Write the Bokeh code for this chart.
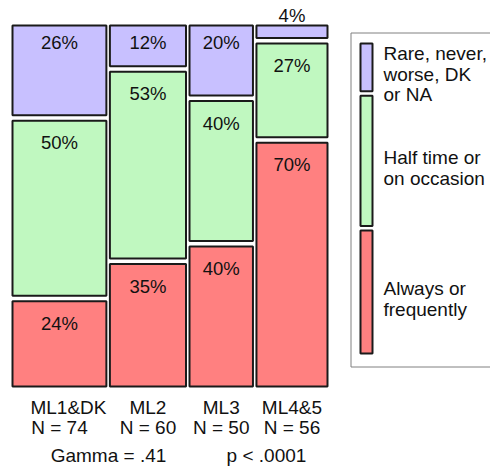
from bokeh.plotting import figure
from bokeh.layouts import row
from bokeh.models import Range1d, ColumnDataSource
from bokeh.embed import file_html
from bokeh.resources import INLINE
from bokeh.core.properties import value

# ---------------- data ----------------
groups = ["ML1&DK", "ML2", "ML3", "ML4&5"]
n_totals = [74, 60, 50, 56]
# counts per response level (bottom -> top)
always_freq = [18, 21, 20, 39]
half_time = [37, 32, 20, 15]
rare_never = [19, 7, 10, 2]
levels = ["Always or\nfrequently", "Half time or\non occasion", "Rare, never,\nworse, DK\nor NA"]
level_colors = ["#ff8080", "#c0f8c0", "#c8c0ff"]
gamma_text = "Gamma = .41"
p_text = "p < .0001"

FONT = "Liberation Sans"
LINE = "#1a1a1a"

# ---------------- mosaic figure ----------------
W1, H = 345, 466
left_px, right_px = 12, 327
gx_px = 3.5
sx = (right_px - left_px - 3 * gx_px) / sum(n_totals)
x_gap = gx_px / sx
bottom_px, top_px = 386, 25
gy_px = 5.5
ty = (bottom_px - top_px - 2 * gy_px) / 100.0
y_gap = gy_px / ty

p = figure(width=W1, height=H, output_backend="svg", toolbar_location=None,
           x_range=Range1d(-left_px / sx, (W1 - left_px) / sx),
           y_range=Range1d(-(H - bottom_px) / ty, bottom_px / ty),
           min_border=0, outline_line_color=None)
p.axis.visible = False
p.grid.visible = False
p.background_fill_color = "white"

layers = [always_freq, half_time, rare_never]
q = dict(left=[], right=[], bottom=[], top=[], color=[])
lab = dict(x=[], y=[], text=[], yoff=[])
x0 = 0.0
centers = []
for i, n in enumerate(n_totals):
    x1 = x0 + n
    centers.append((x0 + x1) / 2)
    y0 = 0.0
    for k, layer in enumerate(layers):
        h = 100.0 * layer[i] / n
        q["left"].append(x0); q["right"].append(x1)
        q["bottom"].append(y0); q["top"].append(y0 + h)
        q["color"].append(level_colors[k])
        lab["x"].append((x0 + x1) / 2)
        lab["y"].append(y0 + h)
        lab["text"].append(f"{round(100.0 * layer[i] / n)}%")
        if h * ty < 20:
            lab["yoff"].append(-10)
        elif k == len(layers) - 1:
            lab["yoff"].append(17)
        else:
            lab["yoff"].append(22)
        y0 += h + y_gap
    x0 = x1 + x_gap

p.quad(left="left", right="right", bottom="bottom", top="top", fill_color="color",
       line_color=LINE, line_width=2, source=ColumnDataSource(q))
p.text(x="x", y="y", text="text", y_offset="yoff", source=ColumnDataSource(lab),
       text_font=value(FONT), text_font_size="18.5px", text_align="center",
       text_baseline="middle", text_color="#111111")

xoffs = [9, 0, 0, 0]
p.text(x=centers, y=[0] * 4, text=groups, x_offset=xoffs, y_offset=21,
       text_font=value(FONT), text_font_size="19px", text_align="center",
       text_baseline="alphabetic", text_color="#111111")
p.text(x=centers, y=[0] * 4, text=[f"N = {n}" for n in n_totals], y_offset=41,
       text_font=value(FONT), text_font_size="19px", text_align="center",
       text_baseline="alphabetic", text_color="#111111")
p.text(x=[(108 - left_px) / sx, (266 - left_px) / sx], y=[0, 0], text=[gamma_text, p_text],
       y_offset=69, text_font=value(FONT), text_font_size="19px", text_align="center",
       text_baseline="alphabetic", text_color="#111111")

# ---------------- legend figure ----------------
W2 = 490 - W1
lb_px, lt_px = 353, 43
lg_px = 4.5
uy = (lb_px - lt_px - 2 * lg_px) / 100.0
l_gap = lg_px / uy

def ypx(v):
    return (lb_px - v) / uy

lg = figure(width=W2, height=H, output_backend="svg", toolbar_location=None,
            x_range=Range1d(0, W2), y_range=Range1d(ypx(H), ypx(0)),
            min_border=0, outline_line_color=None)
lg.axis.visible = False
lg.grid.visible = False

totals = [sum(l) for l in layers]
grand = sum(totals)
sw = dict(bottom=[], top=[], color=[], text=[], mid=[])
y0 = 0.0
for k, t in enumerate(totals):
    h = 100.0 * t / grand
    sw["bottom"].append(y0); sw["top"].append(y0 + h)
    sw["color"].append(level_colors[k]); sw["text"].append(levels[k])
    sw["mid"].append(y0 + h / 2)
    y0 += h + l_gap

lg.quad(left=[5.5], right=[W2 + 20], bottom=[ypx(366.5)], top=[ypx(32.5)],
        fill_color=None, line_color="#808080", line_width=1)
src = ColumnDataSource(sw)
lg.quad(left=15, right=27, bottom="bottom", top="top", fill_color="color",
        line_color=LINE, line_width=2, source=src)
lg.text(x=38, y="mid", text="text", y_offset=7, source=src,
        text_font=value(FONT), text_font_size="19px", text_align="left",
        text_baseline="middle", text_line_height=0.98, text_color="#111111")

layout = row(p, lg, spacing=0)
open("out.html", "w").write(file_html(layout, INLINE))
